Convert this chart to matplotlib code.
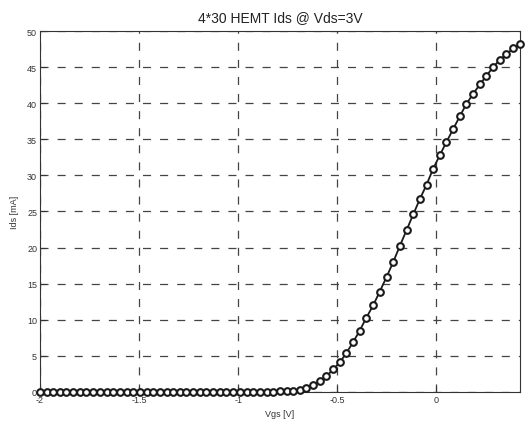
import numpy as np
import matplotlib
matplotlib.use('Agg')
import matplotlib.pyplot as plt

# Vgs sweep [V] and measured drain current [mA]
vgs = [-2.000, -1.966, -1.933, -1.899, -1.866, -1.832, -1.798, -1.765, -1.731, -1.698,
       -1.664, -1.630, -1.597, -1.563, -1.529, -1.496, -1.462, -1.429, -1.395, -1.361,
       -1.328, -1.294, -1.261, -1.227, -1.193, -1.160, -1.126, -1.092, -1.059, -1.025,
       -0.992, -0.958, -0.924, -0.891, -0.857, -0.824, -0.790, -0.756, -0.723, -0.689,
       -0.656, -0.622, -0.588, -0.555, -0.521, -0.487, -0.454, -0.420, -0.387, -0.353,
       -0.319, -0.286, -0.252, -0.218, -0.185, -0.151, -0.117, -0.084, -0.050, -0.017,
       0.017, 0.050, 0.084, 0.118, 0.151, 0.185, 0.219, 0.252, 0.286, 0.319,
       0.353, 0.387, 0.420]
ids = [0.0, 0.0, 0.0, 0.0, 0.0, 0.0, 0.0, 0.0, 0.0, 0.0,
       0.0, 0.0, 0.0, 0.0, 0.0, 0.0, 0.0, 0.0, 0.0, 0.0,
       0.0, 0.0, 0.0, 0.0, 0.0, 0.0, 0.0, 0.0, 0.0, 0.0,
       0.0, 0.01, 0.01, 0.02, 0.03, 0.04, 0.05, 0.08, 0.14, 0.28,
       0.52, 0.95, 1.45, 2.15, 3.1, 4.1, 5.4, 6.9, 8.5, 10.3,
       12.0, 13.9, 15.9, 18.0, 20.2, 22.4, 24.6, 26.7, 28.7, 30.9,
       32.8, 34.6, 36.4, 38.2, 39.9, 41.3, 42.6, 43.8, 45.0, 46.0,
       46.8, 47.6, 48.2]
xticks = [-2, -1.5, -1, -0.5, 0]
xticklabels = ['-2', '-1.5', '-1', '-0.5', '0']
yticks = [0, 5, 10, 15, 20, 25, 30, 35, 40, 45, 50]

plt.rcParams['font.family'] = ['Liberation Sans', 'DejaVu Sans']
plt.rcParams['lines.scale_dashes'] = False

fig = plt.figure(figsize=(5.25, 4.27), dpi=100)
ax = fig.add_axes([0.076, 0.080, 0.914, 0.845])

ax.plot(vgs, ids, color='#1a1a1a', linewidth=1.3, marker='o', markersize=4.8,
        markerfacecolor='white', markeredgecolor='#1a1a1a', markeredgewidth=1.5,
        clip_on=False, zorder=3)

ax.set_xlim(-2, 0.42)
ax.set_ylim(0, 50)
ax.set_xticks(xticks)
ax.set_xticklabels(xticklabels)
ax.set_yticks(yticks)
ax.tick_params(direction='in', length=4, labelsize=6.5, colors='#333333', pad=2)
ax.grid(True, color='#444444', linewidth=0.9, linestyle=(0, (5.8, 6.5)))
for s in ax.spines.values():
    s.set_linewidth(0.8)
    s.set_color('#333333')

ax.set_title('4*30 HEMT Ids @ Vds=3V', fontsize=10, color='#222222', pad=7)
ax.set_xlabel('Vgs [V]', fontsize=6.5, color='#333333', labelpad=4)
ax.set_ylabel('Ids [mA]', fontsize=6.5, color='#333333', labelpad=6)

fig.savefig('out.png', dpi=100)
